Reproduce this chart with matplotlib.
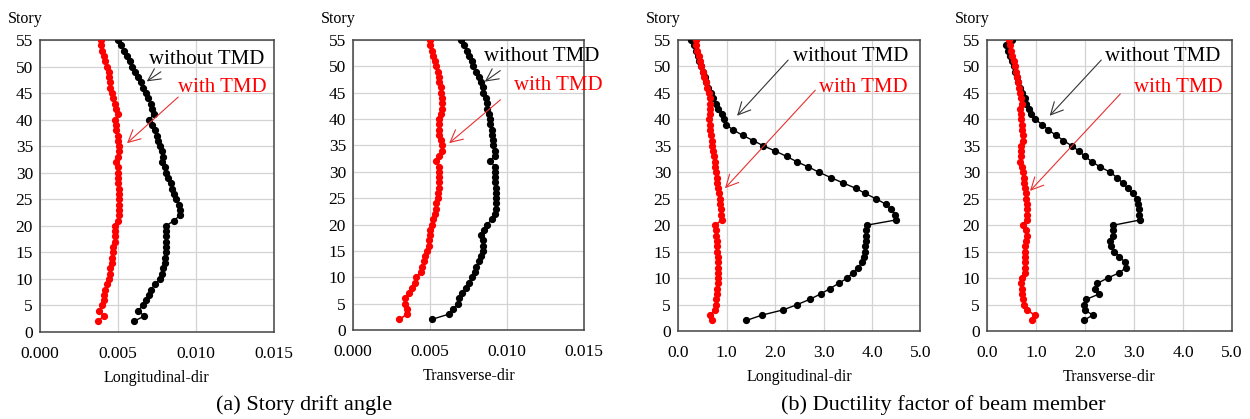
import matplotlib.pyplot as plt

plt.rcParams['font.family'] = 'Liberation Serif'

stories = list(range(2, 56))

# story drift angle, longitudinal direction (stories 2..55)
drift_long_without = [0.0060, 0.0067, 0.0063, 0.0066, 0.0068, 0.0070, 0.0071, 0.0074, 0.0077, 0.0078,
                      0.0079, 0.0080, 0.0080, 0.0081, 0.0081, 0.0081, 0.0081, 0.0081, 0.0081, 0.0086,
                      0.0090, 0.0090, 0.0089, 0.0087, 0.0086, 0.0085, 0.0084, 0.0082, 0.0081, 0.0080,
                      0.0078, 0.0079, 0.0078, 0.0077, 0.0076, 0.0075, 0.0074, 0.0072, 0.0070, 0.0073,
                      0.0072, 0.0071, 0.0069, 0.0068, 0.0066, 0.0065, 0.0063, 0.0061, 0.0059, 0.0058,
                      0.0056, 0.0054, 0.0052, 0.0050]
drift_long_with = [0.0037, 0.0041, 0.0038, 0.0040, 0.0041, 0.0041, 0.0042, 0.0043, 0.0044, 0.0045,
                   0.0045, 0.0046, 0.0046, 0.0047, 0.0047, 0.0048, 0.0048, 0.0048, 0.0048, 0.0050,
                   0.0051, 0.0051, 0.0051, 0.0051, 0.0051, 0.0051, 0.0050, 0.0050, 0.0050, 0.0050,
                   0.0049, 0.0050, 0.0051, 0.0051, 0.0050, 0.0050, 0.0049, 0.0049, 0.0048, 0.0050,
                   0.0049, 0.0048, 0.0047, 0.0046, 0.0045, 0.0045, 0.0044, 0.0044, 0.0043, 0.0042,
                   0.0041, 0.0040, 0.0039, 0.0039]

# story drift angle, transverse direction
drift_trans_without = [0.0051, 0.0062, 0.0065, 0.0068, 0.0069, 0.0071, 0.0073, 0.0075, 0.0077, 0.0079,
                       0.0080, 0.0082, 0.0083, 0.0084, 0.0084, 0.0084, 0.0083, 0.0085, 0.0087, 0.0090,
                       0.0092, 0.0093, 0.0093, 0.0093, 0.0093, 0.0093, 0.0092, 0.0092, 0.0092, 0.0092,
                       0.0089, 0.0092, 0.0092, 0.0091, 0.0091, 0.0090, 0.0090, 0.0089, 0.0089, 0.0088,
                       0.0087, 0.0087, 0.0086, 0.0084, 0.0084, 0.0083, 0.0082, 0.0080, 0.0078, 0.0077,
                       0.0075, 0.0074, 0.0072, 0.0070]
drift_trans_with = [0.0030, 0.0035, 0.0035, 0.0034, 0.0034, 0.0036, 0.0038, 0.0040, 0.0041, 0.0044,
                    0.0045, 0.0046, 0.0047, 0.0048, 0.0049, 0.0049, 0.0050, 0.0050, 0.0051, 0.0052,
                    0.0053, 0.0054, 0.0054, 0.0055, 0.0055, 0.0056, 0.0056, 0.0056, 0.0056, 0.0056,
                    0.0054, 0.0056, 0.0058, 0.0058, 0.0057, 0.0056, 0.0056, 0.0056, 0.0056, 0.0057,
                    0.0058, 0.0058, 0.0058, 0.0057, 0.0057, 0.0056, 0.0056, 0.0055, 0.0054, 0.0053,
                    0.0052, 0.0051, 0.0050, 0.0050]

# ductility factor of beam member, longitudinal direction
duct_long_without = [1.41, 1.73, 2.17, 2.46, 2.72, 2.94, 3.13, 3.31, 3.49, 3.60,
                     3.72, 3.79, 3.83, 3.85, 3.86, 3.87, 3.87, 3.88, 3.89, 4.50,
                     4.47, 4.40, 4.28, 4.08, 3.86, 3.66, 3.40, 3.15, 2.91, 2.69,
                     2.45, 2.24, 2.01, 1.76, 1.55, 1.33, 1.14, 0.99, 0.94, 0.90,
                     0.83, 0.78, 0.72, 0.68, 0.62, 0.58, 0.55, 0.51, 0.47, 0.44,
                     0.41, 0.37, 0.32, 0.26]
duct_long_with = [0.71, 0.67, 0.76, 0.78, 0.79, 0.80, 0.81, 0.82, 0.83, 0.83,
                  0.83, 0.82, 0.82, 0.81, 0.80, 0.80, 0.79, 0.78, 0.77, 0.90,
                  0.89, 0.88, 0.87, 0.86, 0.84, 0.83, 0.81, 0.80, 0.79, 0.77,
                  0.76, 0.74, 0.72, 0.71, 0.70, 0.68, 0.66, 0.65, 0.64, 0.66,
                  0.67, 0.67, 0.66, 0.64, 0.60, 0.57, 0.53, 0.51, 0.48, 0.46,
                  0.44, 0.40, 0.38, 0.37]

# ductility factor of beam member, transverse direction
duct_trans_without = [1.97, 2.16, 1.99, 1.98, 2.03, 2.29, 2.21, 2.25, 2.46, 2.70,
                      2.84, 2.82, 2.70, 2.60, 2.54, 2.52, 2.57, 2.58, 2.58, 3.13,
                      3.11, 3.10, 3.09, 3.06, 2.97, 2.87, 2.77, 2.65, 2.52, 2.31,
                      2.14, 2.00, 1.88, 1.73, 1.56, 1.41, 1.25, 1.13, 0.98, 0.89,
                      0.86, 0.80, 0.77, 0.72, 0.68, 0.64, 0.61, 0.58, 0.55, 0.50,
                      0.47, 0.43, 0.38, 0.50]
duct_trans_with = [0.91, 0.97, 0.82, 0.76, 0.74, 0.72, 0.71, 0.70, 0.72, 0.77,
                   0.78, 0.78, 0.77, 0.77, 0.77, 0.79, 0.82, 0.79, 0.73, 0.81,
                   0.81, 0.81, 0.81, 0.80, 0.79, 0.77, 0.76, 0.75, 0.74, 0.72,
                   0.68, 0.69, 0.69, 0.70, 0.73, 0.73, 0.72, 0.71, 0.70, 0.69,
                   0.68, 0.71, 0.70, 0.68, 0.66, 0.63, 0.61, 0.60, 0.57, 0.55,
                   0.52, 0.49, 0.46, 0.44]

drift_ticks = [0.000, 0.005, 0.010, 0.015]
duct_ticks = [0.0, 1.0, 2.0, 3.0, 4.0, 5.0]

fig = plt.figure(figsize=(12.5, 4.19), dpi=100)
fig.patch.set_facecolor('#ffffff')


def panel(rect, without, with_, ticks, fmt, xlabel, notes):
    ax = fig.add_axes(rect)
    ax.plot(without, stories, 'o-', color='black', ms=4.2, lw=1, zorder=3)
    ax.plot(with_, stories, 'o-', color='red', ms=4.2, lw=1.2, zorder=4)
    ax.set_xlim(ticks[0], ticks[-1])
    ax.set_ylim(0, 55)
    ax.set_xticks(ticks)
    ax.set_xticklabels([fmt % v for v in ticks])
    ax.set_yticks(range(0, 56, 5))
    ax.grid(True, color='#d3d3d3', lw=0.9)
    ax.set_axisbelow(True)
    ax.tick_params(length=0, labelsize=12.5)
    ax.tick_params(axis='x', pad=10)
    ax.tick_params(axis='y', pad=5)
    for s in ax.spines.values():
        s.set_color('#444444')
        s.set_linewidth(1.1)
    ax.set_xlabel(xlabel, fontsize=11.5, labelpad=6)
    ax.annotate('Story', xy=(0, 1), xycoords='axes fraction', xytext=(-23, 15),
                textcoords='offset points', ha='left', va='center', fontsize=11.5)

    wo_text, wo_tail, wo_tip, w_text, w_tail, w_tip = notes
    ax.text(wo_text[0], wo_text[1], 'without TMD', color='black', fontsize=15,
            ha='center', va='center', clip_on=False)
    ax.annotate('', xy=wo_tip, xytext=wo_tail,
                arrowprops=dict(arrowstyle='->', color='#333333', lw=0.8, mutation_scale=22))
    ax.text(w_text[0], w_text[1], 'with TMD', color='red', fontsize=15,
            ha='center', va='center', clip_on=False)
    ax.annotate('', xy=w_tip, xytext=w_tail,
                arrowprops=dict(arrowstyle='->', color='#e83030', lw=0.8, mutation_scale=22))
    return ax


panel([0.032, 0.2076, 0.187, 0.697], drift_long_without, drift_long_with,
      drift_ticks, '%.3f', 'Longitudinal-dir',
      ((0.0107, 51.4), (0.0079, 49.3), (0.0067, 46.9),
       (0.01167, 46.0), (0.0090, 44.6), (0.00545, 35.2)))

panel([0.2824, 0.2124, 0.185, 0.6921], drift_trans_without, drift_trans_with,
      drift_ticks, '%.3f', 'Transverse-dir',
      ((0.01227, 51.8), (0.0097, 49.5), (0.0084, 46.8),
       (0.0133, 46.3), (0.0097, 44.0), (0.0061, 35.1)))

panel([0.5424, 0.2100, 0.194, 0.6945], duct_long_without, duct_long_with,
      duct_ticks, '%.1f', 'Longitudinal-dir',
      ((3.57, 51.8), (2.31, 51.6), (1.18, 40.3),
       (3.82, 46.1), (2.87, 45.9), (0.93, 26.6)))

panel([0.7896, 0.2100, 0.196, 0.6945], duct_trans_without, duct_trans_with,
      duct_ticks, '%.1f', 'Transverse-dir',
      ((3.59, 51.8), (2.37, 51.6), (1.24, 40.3),
       (3.90, 46.1), (2.76, 45.2), (0.84, 26.1)))

fig.text(304 / 1250, 1 - 405 / 419, '(a) Story drift angle', ha='center', va='center', fontsize=16)
fig.text(943 / 1250, 1 - 405 / 419, '(b) Ductility factor of beam member', ha='center', va='center',
         fontsize=16)

fig.savefig('out.png', dpi=100, facecolor='#ffffff')
